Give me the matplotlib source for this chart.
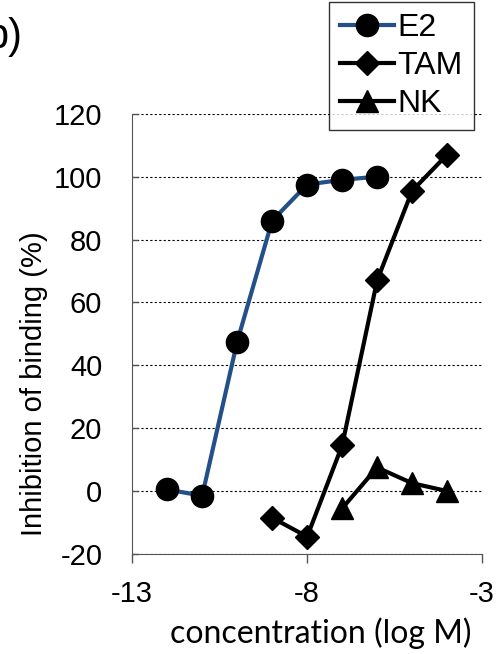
"""
Competitive binding curves - inhibition vs concentration
"""

import matplotlib.pyplot as plt

# data
e2_x = [-12, -11, -10, -9, -8, -7, -6]
e2_y = [0.5, -1.5, 47.5, 86, 97.5, 99, 100]

tam_x = [-9, -8, -7, -6, -5, -4]
tam_y = [-8.5, -14.5, 14.5, 67, 95.5, 107]

nk_x = [-7, -6, -5, -4]
nk_y = [-5.5, 7.5, 2.5, 0]

x_ticks = [-13, -8, -3]
y_ticks = [-20, 0, 20, 40, 60, 80, 100, 120]

plt.rcParams["font.family"] = ["Liberation Sans", "DejaVu Sans"]
plt.rcParams["axes.unicode_minus"] = False

fig = plt.figure(figsize=(4.97, 6.54), dpi=100)
ax = fig.add_axes([0.266, 0.153, 0.704, 0.673])

ax.plot(e2_x, e2_y, "-o", color="#245089", lw=3, ms=16, mfc="black", mec="black",
        label="E2", zorder=3)
ax.plot(tam_x, tam_y, "-D", color="black", lw=3, ms=12, label="TAM", zorder=3)
ax.plot(nk_x, nk_y, "-^", color="black", lw=3, ms=16, label="NK", zorder=3)

ax.set_xlim(-13, -3)
ax.set_ylim(-20, 120)
ax.set_xticks(x_ticks)
ax.set_yticks(y_ticks)
ax.tick_params(axis="x", labelsize=21, direction="out", length=6.5, width=1,
               pad=12, color="#555555")
ax.tick_params(axis="y", labelsize=21, direction="in", length=4.5, width=1,
               pad=21.5, color="#555555")
ax.grid(True, axis="y", linestyle=(0, (2, 2)), color="black", linewidth=0.8)
ax.set_axisbelow(True)

for side in ["top", "right"]:
    ax.spines[side].set_visible(False)
ax.spines["left"].set_color("#555555")
ax.spines["bottom"].set_color("#555555")

ax.set_ylabel("Inhibition of binding (%)", fontsize=21)
ax.yaxis.set_label_coords(-0.28, 0.386)
ax.yaxis.label.set_va("center")

ax.set_xlabel("concentration (log M)", fontsize=23, family=["Lato", "DejaVu Sans"])
ax.xaxis.set_label_coords(0.54, -0.18)
ax.xaxis.label.set_va("center")

fig.text(0.045, 0.944, "b)", fontsize=30, ha="right", va="center")

leg = fig.legend(loc="upper left", bbox_to_anchor=(329 / 497, 1 - 2 / 654),
                 fontsize=23, frameon=True, fancybox=False, edgecolor="black",
                 handlelength=1.7, handletextpad=0.1, labelspacing=0.25,
                 borderpad=0.35, borderaxespad=0.0)
leg.get_frame().set_linewidth(1)

plt.savefig("out.png", dpi=100)
